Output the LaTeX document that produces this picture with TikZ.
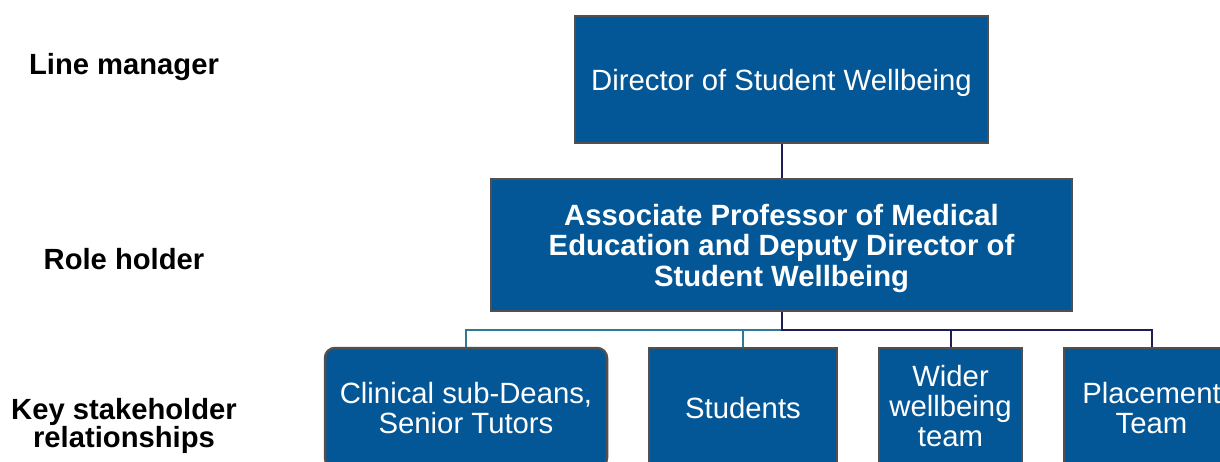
\documentclass[tikz,border=0pt]{standalone}
\usepackage{fontspec}
\setmainfont{Liberation Sans}
\definecolor{boxblue}{RGB}{4,87,150}
\definecolor{boxedge}{RGB}{80,80,80}
\definecolor{linknavy}{RGB}{30,30,84}
\definecolor{linkteal}{RGB}{46,122,150}
\begin{document}
\begin{tikzpicture}[x=1pt,y=-1pt,
  orgbox/.style={draw=boxedge, line width=2.5pt, fill=boxblue, text=white,
    align=center, inner sep=0pt, text depth=0pt,
    font=\fontsize{29.3}{30.3}\selectfont},
  tierlabel/.style={align=center, inner sep=0pt, text depth=0pt,
    font=\fontsize{29.2}{28}\selectfont\bfseries},
  navylink/.style={draw=linknavy, line width=2pt},
  teallink/.style={draw=linkteal, line width=2pt}]
  \useasboundingbox (0,0) rectangle (1220,462);
  \clip (0,0) rectangle (1220,462);

  % tier labels on the left
  \node[tierlabel] (lblline) at (124,64) {Line manager};
  \node[tierlabel] (lblrole) at (124,259) {Role holder};
  \node[tierlabel] (lblkey) at (124,423) {Key stakeholder\\relationships};

  % boxes
  \node[orgbox, minimum width=413pt, minimum height=127pt] (dir) at (781.5,79.5)
    {Director of Student Wellbeing};
  \node[orgbox, minimum width=581pt, minimum height=132pt,
    font=\fontsize{29.3}{30.5}\selectfont\bfseries] (deputy) at (781.5,245)
    {Associate Professor of Medical\\Education and Deputy Director of\\Student Wellbeing};
  \node[orgbox, rounded corners=10pt, minimum width=282pt, minimum height=120pt] (clin) at (466,408)
    {Clinical sub-Deans,\\Senior Tutors};
  \node[orgbox, minimum width=188pt, minimum height=120pt] (stud) at (743,408)
    {Students};
  \node[orgbox, minimum width=143pt, minimum height=116pt] (wide) at (950.5,406)
    {Wider\\wellbeing\\team};
  \node[orgbox, minimum width=175pt, minimum height=120pt] (place) at (1151.5,408)
    {Placement\\Team};

  % connectors
  \coordinate (bus) at (781.5,330);
  \draw[teallink] (bus) -| (clin.north);
  \draw[teallink] (bus) -| (stud.north);
  \draw[navylink] (dir.south) -- (deputy.north);
  \draw[navylink] (deputy.south) -- (bus) -| (wide.north);
  \draw[navylink] (bus) -| (place.north);
\end{tikzpicture}
\end{document}
